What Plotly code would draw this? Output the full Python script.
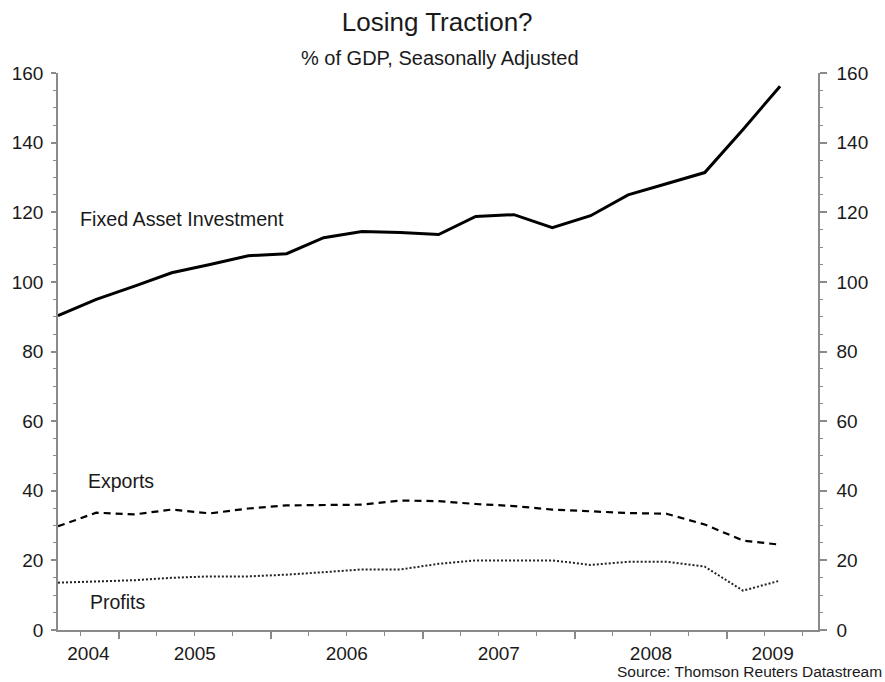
import plotly.graph_objects as go
import pandas as pd

# ---- data (quarterly observations, % of GDP) ----
dates = ["2004-08-08", "2004-11-08", "2005-02-08", "2005-05-08", "2005-08-08",
         "2005-11-08", "2006-02-08", "2006-05-08", "2006-08-08", "2006-11-08",
         "2007-02-08", "2007-05-08", "2007-08-08", "2007-11-08", "2008-02-08",
         "2008-05-08", "2008-08-08", "2008-11-08", "2009-02-08", "2009-05-08"]
fixed_asset_investment = [90.3, 95.0, 98.8, 102.6, 105.0, 107.5, 108.1, 112.7, 114.5, 114.2,
                          113.6, 118.8, 119.3, 115.6, 119.0, 125.0, 128.2, 131.4, 143.8, 156.2]
exports = [29.8, 33.7, 33.2, 34.6, 33.5, 34.9, 35.8, 36.0, 36.0, 37.2,
           37.0, 36.2, 35.6, 34.6, 34.1, 33.6, 33.4, 30.3, 25.7, 24.5]
profits = [13.6, 14.0, 14.3, 15.0, 15.4, 15.4, 15.9, 16.6, 17.4, 17.4,
           19.0, 20.0, 20.0, 20.0, 18.7, 19.6, 19.6, 18.2, 11.3, 14.2]
year_labels = ["2004", "2005", "2006", "2007", "2008", "2009"]
x_range = ["2004-08-08", "2009-08-07"]

# label positions: middle of the visible part of each year
r0, r1 = pd.Timestamp(x_range[0]), pd.Timestamp(x_range[1])
label_pos = []
for y in year_labels:
    a = max(pd.Timestamp(f"{y}-01-01"), r0)
    b = min(pd.Timestamp(f"{int(y)+1}-01-01"), r1)
    label_pos.append((a + (b - a) / 2).strftime("%Y-%m-%d %H:%M"))

FONT = "Liberation Sans, Arial, sans-serif"
AX = "#8a8a8a"
TXT = "#1a1a1a"

fig = go.Figure()
fig.add_trace(go.Scatter(x=dates, y=fixed_asset_investment, mode="lines",
                         line=dict(color="black", width=3), hoverinfo="skip"))
fig.add_trace(go.Scatter(x=dates, y=exports, mode="lines",
                         line=dict(color="black", width=2.2, dash="7px,5px"), hoverinfo="skip"))
fig.add_trace(go.Scatter(x=dates, y=profits, mode="lines",
                         line=dict(color="#222", width=2, dash="2px,2px"), hoverinfo="skip"))
# invisible carrier trace for the secondary (overlay) axes
fig.add_trace(go.Scatter(x=dates, y=exports, xaxis="x2", yaxis="y2", mode="lines",
                         line=dict(width=0), opacity=0, hoverinfo="skip"))

fig.update_layout(
    width=885, height=682,
    margin=dict(l=55, r=67, t=73, b=52),
    paper_bgcolor="white", plot_bgcolor="white",
    showlegend=False,
    font=dict(family=FONT, color=TXT, size=19),
    title=dict(text="Losing Traction?", x=0.494, xanchor="center", y=0.968, yanchor="middle",
               font=dict(family=FONT, size=26, color=TXT)),
    xaxis=dict(type="date", range=x_range, showgrid=False, zeroline=False,
               showline=True, linecolor=AX, linewidth=1.5,
               tickmode="linear", tick0="2004-01-01", dtick="M12",
               ticks="outside", ticklen=7, tickcolor=AX, tickwidth=1.5,
               showticklabels=False,
               minor=dict(ticks="outside", ticklen=4, tickcolor=AX, tickwidth=1.2,
                          dtick="M3", tick0="2004-01-01", showgrid=False)),
    xaxis2=dict(type="date", range=x_range, overlaying="x", anchor="y", side="bottom",
                showgrid=False, zeroline=False, showline=False,
                tickmode="array", tickvals=label_pos, ticktext=year_labels,
                ticks="", ticklabelstandoff=10,
                tickfont=dict(family=FONT, size=19, color=TXT)),
    yaxis=dict(range=[0, 160], dtick=20, showgrid=False, zeroline=False,
               showline=True, linecolor=AX, linewidth=1.5,
               ticks="outside", ticklen=5, tickcolor=AX, tickwidth=1.5,
               tickfont=dict(family=FONT, size=19, color=TXT), ticklabelstandoff=4,
               minor=dict(ticks="outside", ticklen=3, tickcolor=AX, tickwidth=1.2, dtick=5,
                          showgrid=False)),
    yaxis2=dict(range=[0, 160], dtick=20, overlaying="y", anchor="x", side="right",
                showgrid=False, zeroline=False,
                showline=True, linecolor=AX, linewidth=1.5,
                ticks="outside", ticklen=7, tickcolor=AX, tickwidth=1.5,
                tickfont=dict(family=FONT, size=19, color=TXT), ticklabelstandoff=6,
                minor=dict(ticks="outside", ticklen=3, tickcolor=AX, tickwidth=1.2, dtick=5,
                           showgrid=False)),
)

fig.add_annotation(text="% of GDP, Seasonally Adjusted", xref="paper", yref="paper",
                   x=0.503, y=1.0275, xanchor="center", yanchor="middle", showarrow=False,
                   font=dict(family=FONT, size=20, color=TXT))
fig.add_annotation(text="Fixed Asset Investment", xref="paper", yref="paper",
                   x=0.026, y=0.7376, xanchor="left", yanchor="middle", showarrow=False,
                   font=dict(family=FONT, size=19.7, color=TXT))
fig.add_annotation(text="Exports", xref="paper", yref="paper",
                   x=0.037, y=0.268, xanchor="left", yanchor="middle", showarrow=False,
                   font=dict(family=FONT, size=19.5, color=TXT))
fig.add_annotation(text="Profits", xref="paper", yref="paper",
                   x=0.040, y=0.0494, xanchor="left", yanchor="middle", showarrow=False,
                   font=dict(family=FONT, size=19.5, color=TXT))
fig.add_annotation(text="Source: Thomson Reuters Datastream", xref="paper", yref="paper",
                   x=1.087, y=-0.0745, xanchor="right", yanchor="middle", showarrow=False,
                   font=dict(family=FONT, size=15.5, color=TXT))

fig.write_html("out.html")
